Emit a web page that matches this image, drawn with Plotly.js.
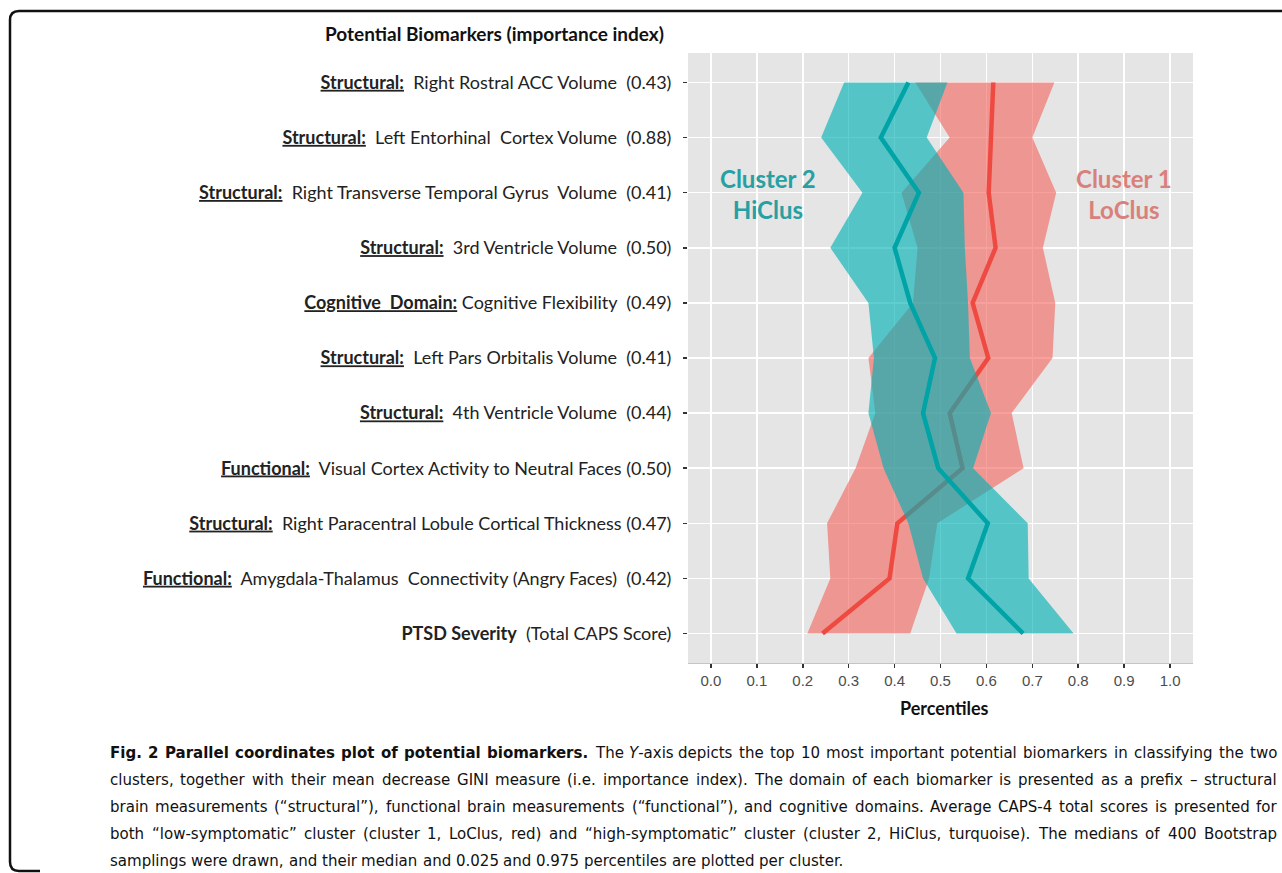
<!DOCTYPE html>
<html>
<head>
<meta charset="utf-8">
<script src="https://cdn.plot.ly/plotly-3.0.1.min.js"></script>
<style>html,body{margin:0;padding:0;background:#fff;} #chart{width:1282px;height:873px;}</style>
</head>
<body>
<div id="chart"></div>
<script>
// ---------- data ----------
const biomarkers = [
  "<b><u>Structural:</u></b>  Right Rostral ACC Volume  (0.43)",
  "<b><u>Structural:</u></b>  Left Entorhinal  Cortex Volume  (0.88)",
  "<b><u>Structural:</u></b>  Right Transverse Temporal Gyrus  Volume  (0.41)",
  "<b><u>Structural:</u></b>  3rd Ventricle Volume  (0.50)",
  "<b><u>Cognitive  Domain:</u></b> Cognitive Flexibility  (0.49)",
  "<b><u>Structural:</u></b>  Left Pars Orbitalis Volume  (0.41)",
  "<b><u>Structural:</u></b>  4th Ventricle Volume  (0.44)",
  "<b><u>Functional:</u></b>  Visual Cortex Activity to Neutral Faces (0.50)",
  "<b><u>Structural:</u></b>  Right Paracentral Lobule Cortical Thickness (0.47)",
  "<b><u>Functional:</u></b>  Amygdala-Thalamus  Connectivity (Angry Faces)  (0.42)",
  "<b>PTSD Severity</b>  (Total CAPS Score)"
];
// Cluster 2 (HiClus, turquoise)
const hiLow    = [0.29, 0.24, 0.33, 0.26, 0.343, 0.355, 0.343, 0.376, 0.43, 0.462, 0.535];
const hiMedian = [0.43, 0.37, 0.453, 0.40, 0.434, 0.488, 0.462, 0.495, 0.603, 0.56, 0.68];
const hiHigh   = [0.515, 0.47, 0.55, 0.553, 0.56, 0.564, 0.61, 0.571, 0.69, 0.692, 0.79];
// Cluster 1 (LoClus, red)
const loLow    = [0.445, 0.52, 0.415, 0.45, 0.44, 0.343, 0.358, 0.315, 0.253, 0.26, 0.21];
const loMedian = [0.615, 0.61, 0.605, 0.62, 0.57, 0.604, 0.52, 0.548, 0.406, 0.389, 0.243];
const loHigh   = [0.748, 0.70, 0.752, 0.723, 0.75, 0.744, 0.655, 0.681, 0.493, 0.475, 0.434];
const xTicks = [0.0, 0.1, 0.2, 0.3, 0.4, 0.5, 0.6, 0.7, 0.8, 0.9, 1.0];
const captionLines = [
  "<b>Fig. 2 Parallel coordinates plot of potential biomarkers.</b> The <i>Y</i>-axis depicts the top 10 most important potential biomarkers in classifying the two",
  "clusters, together with their mean decrease GINI measure (i.e. importance index). The domain of each biomarker is presented as a prefix – structural",
  "brain measurements (“structural”), functional brain measurements (“functional”), and cognitive domains. Average CAPS-4 total scores is presented for",
  "both “low-symptomatic” cluster (cluster 1, LoClus, red) and “high-symptomatic” cluster (cluster 2, HiClus, turquoise). The medians of 400 Bootstrap",
  "samplings were drawn, and their median and 0.025 and 0.975 percentiles are plotted per cluster."
];

// ---------- geometry helpers ----------
const W = 1282, H = 873;
const M = {l: 688, r: 89, t: 53, b: 210};
const PW = W - M.l - M.r, PH = H - M.t - M.b;
const px = x => (x - M.l) / PW;
const py = y => (M.t + PH - y) / PH;

const labelFont = "Lato, 'DejaVu Sans', sans-serif";
const capFont = "'Liberation Sans Narrow', 'DejaVu Sans Condensed', 'Roboto', sans-serif";

function ribbon(lo, hi, color) {
  return {
    type: 'scatter', mode: 'lines',
    x: lo.concat(hi.slice().reverse()),
    y: biomarkers.concat(biomarkers.slice().reverse()),
    fill: 'toself', fillcolor: color,
    line: {width: 0, color: 'rgba(0,0,0,0)'},
    hoverinfo: 'skip'
  };
}
function medianLine(vals, color) {
  return {
    type: 'scatter', mode: 'lines', x: vals, y: biomarkers,
    line: {color: color, width: 4.5}, hoverinfo: 'skip'
  };
}

const traces = [
  ribbon(loLow, loHigh, 'rgba(244,97,89,0.60)'),
  medianLine(loMedian, '#EF4A42'),
  ribbon(hiLow, hiHigh, 'rgba(0,178,182,0.63)'),
  medianLine(hiMedian, '#00A3A6')
];

// ---------- caption (justified, word by word) ----------
const cv = document.createElement('canvas').getContext('2d');
function tokens(line) {
  let bold = false;
  const out = [];
  line.split(' ').forEach(w => {
    if (!w) return;
    let b = bold;
    if (w.includes('<b>')) { b = true; bold = true; }
    if (w.includes('</b>')) bold = false;
    out.push({html: w.replace(/<\/?b>/g, ''), bold: b});
  });
  return out;
}
function wordWidth(tok, size) {
  cv.font = (tok.bold ? 'bold ' : '') + size + 'px ' + capFont;
  return cv.measureText(tok.html.replace(/<[^>]+>/g, '')).width;
}
function lineWidth(toks, size) {
  cv.font = size + 'px ' + capFont;
  const sp = cv.measureText(' ').width;
  return toks.reduce((a, t) => a + wordWidth(t, size), 0) + sp * (toks.length - 1);
}
const capLeft = 108, capRight = 1275;
const capTokens = captionLines.map(tokens);
const capFit = capTokens.slice(0, -1).map(toks =>
  16 * (capRight - capLeft) * 0.975 / lineWidth(toks, 16));
const capSize = Math.max(13, Math.min(18, Math.min.apply(null, capFit)));
const annotations = [];
capTokens.forEach((toks, i) => {
  const last = i === capTokens.length - 1;
  const widths = toks.map(t => wordWidth(t, capSize));
  cv.font = capSize + 'px ' + capFont;
  const sp = cv.measureText(' ').width;
  const total = widths.reduce((a, b) => a + b, 0);
  const gap = last ? sp : (capRight - capLeft - total) / (toks.length - 1);
  let cursor = capLeft;
  toks.forEach((t, j) => {
    annotations.push({
      xref: 'paper', yref: 'paper', x: px(cursor), y: py(752 + i * 27),
      xanchor: 'left', yanchor: 'middle', showarrow: false, align: 'left',
      text: t.bold ? '<b>' + t.html + '</b>' : t.html,
      font: {family: capFont, size: capSize, color: '#111'}
    });
    cursor += widths[j] + gap;
  });
});

annotations.push(
  {xref: 'paper', yref: 'paper', x: px(494), y: py(34), xanchor: 'center', yanchor: 'middle',
   showarrow: false, text: '<b>Potential Biomarkers (importance index)</b>',
   font: {family: labelFont, size: 19, color: '#111'}},
  {xref: 'paper', yref: 'paper', x: px(944), y: py(708), xanchor: 'center', yanchor: 'middle',
   showarrow: false, text: '<b>Percentiles</b>',
   font: {family: labelFont, size: 18, color: '#111'}},
  {xref: 'paper', yref: 'paper', x: px(768), y: py(194), xanchor: 'center', yanchor: 'middle',
   showarrow: false, text: '<b>Cluster 2<br>HiClus</b>', align: 'center',
   font: {family: "Lato, 'Open Sans', sans-serif", size: 24, color: '#27A0A3'}},
  {xref: 'paper', yref: 'paper', x: px(1124), y: py(194), xanchor: 'center', yanchor: 'middle',
   showarrow: false, text: '<b>Cluster 1<br>LoClus</b>', align: 'center',
   font: {family: "Lato, 'Open Sans', sans-serif", size: 24, color: '#D8817C'}}
);

const shapes = [{
  type: 'path', xref: 'paper', yref: 'paper',
  path: `M ${px(1290)},${py(11)} L ${px(19)},${py(11)} Q ${px(10)},${py(11)} ${px(10)},${py(20)} ` +
        `L ${px(10)},${py(862)} Q ${px(10)},${py(871)} ${px(19)},${py(871)} L ${px(40)},${py(871)}`,
  line: {color: '#111', width: 2.5}
}];

const layout = {
  width: W, height: H,
  margin: {l: M.l, r: M.r, t: M.t, b: M.b, pad: 0},
  paper_bgcolor: '#ffffff', plot_bgcolor: '#E5E5E5',
  showlegend: false,
  xaxis: {
    range: [-0.05, 1.05], tickvals: xTicks, ticktext: xTicks.map(v => v.toFixed(1)),
    ticks: 'outside', ticklen: 4, tickwidth: 1.5, tickcolor: '#333',
    showgrid: true, gridcolor: '#ffffff', gridwidth: 1.6, zeroline: false,
    showline: true, linecolor: '#c4c4c4', linewidth: 1,
    tickfont: {family: "'Liberation Sans', Arial, sans-serif", size: 15, color: '#4d4d4d'},
    fixedrange: true
  },
  yaxis: {
    type: 'category', categoryorder: 'array', categoryarray: biomarkers,
    range: [10.535, -0.535],
    ticks: 'outside', ticklen: 4, tickwidth: 1.5, tickcolor: '#333',
    ticklabelstandoff: 8,
    showgrid: true, gridcolor: '#ffffff', gridwidth: 1.6, zeroline: false,
    tickfont: {family: labelFont, size: 18, color: '#222'},
    fixedrange: true
  },
  annotations: annotations,
  shapes: shapes
};

Plotly.newPlot('chart', traces, layout, {displayModeBar: false, staticPlot: true});
</script>
</body>
</html>
